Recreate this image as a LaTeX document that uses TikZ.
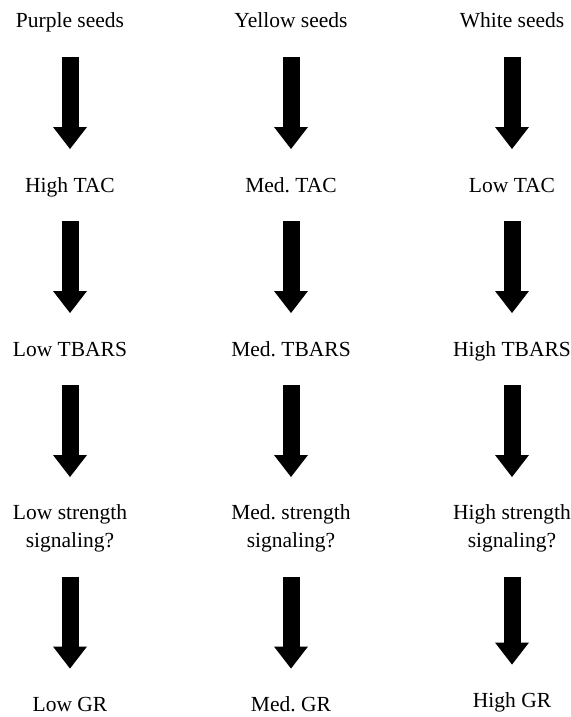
\documentclass[tikz,border=0pt]{standalone}
\usepackage{fontspec}
\setmainfont{Liberation Serif}
\usetikzlibrary{arrows.meta,positioning}
\frenchspacing

\begin{document}
\begin{tikzpicture}[-{Triangle[width=34pt,length=22pt,line width=0pt]},line width=17pt,shorten <=24pt,shorten >=28pt,node distance=144pt,font=\fontsize{21.5}{28}\selectfont]
\tikzstyle{stage}=[inner sep=0pt,outer sep=0pt,text height=15pt,text depth=5pt]
\tikzstyle{stagetwo}=[inner sep=0pt,outer sep=0pt,align=center]

\useasboundingbox (0,0) rectangle (570pt,-717pt);

\node[stage,anchor=base] (purple) at (70pt,-28pt) {Purple seeds};
\node[stage,anchor=base] (yellow) at (291pt,-28pt) {Yellow seeds};
\node[stage,anchor=base] (white) at (512pt,-28pt) {White seeds};

\node[stage] (hightac) [below=of purple] {High TAC};
\node[stage] (medtac) [below=of yellow] {Med. TAC};
\node[stage] (lowtac) [below=of white] {Low TAC};

\node[stage] (lowtbars) [below=of hightac] {Low TBARS};
\node[stage] (medtbars) [below=of medtac] {Med. TBARS};
\node[stage] (hightbars) [below=of lowtac] {High TBARS};

\node[stagetwo] (lowsig) [below=of lowtbars] {Low strength\\signaling?};
\node[stagetwo] (medsig) [below=of medtbars] {Med. strength\\signaling?};
\node[stagetwo] (highsig) [below=of hightbars] {High strength\\signaling?};

\node[stage] (lowgr) [below=of lowsig] {Low GR};
\node[stage] (medgr) [below=of medsig] {Med. GR};
\node[stage,yshift=4pt] (highgr) [below=of highsig] {High GR};

\path
	(purple) edge (hightac)
	(hightac) edge (lowtbars)
	(lowtbars) edge (lowsig)
	(lowsig) edge (lowgr)
	(yellow) edge (medtac)
	(medtac) edge (medtbars)
	(medtbars) edge (medsig)
	(medsig) edge (medgr)
	(white) edge (lowtac)
	(lowtac) edge (hightbars)
	(hightbars) edge (highsig)
	(highsig) edge (highgr);
\end{tikzpicture}
\end{document}
